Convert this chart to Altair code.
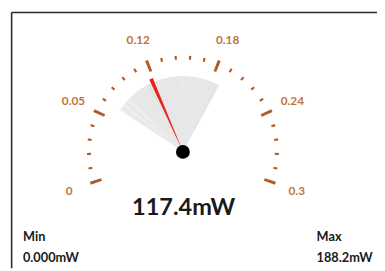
import altair as alt
import pandas as pd

# ---- data ----
major_values = [0, 0.06, 0.12, 0.18, 0.24, 0.3]
major_labels = ["0", "0.05", "0.12", "0.18", "0.24", "0.3"]
minor_values = [0.012, 0.024, 0.036, 0.048,
                0.072, 0.084, 0.096, 0.108,
                0.132, 0.144, 0.156, 0.168,
                0.192, 0.204, 0.216, 0.228,
                0.252, 0.264, 0.276, 0.288]
history_values = [0.0736, 0.077, 0.081, 0.084, 0.088, 0.091, 0.094, 0.097,
                  0.100, 0.103, 0.106, 0.109, 0.112, 0.114, 0.117, 0.120,
                  0.123, 0.126, 0.129, 0.132, 0.135, 0.138, 0.141, 0.144,
                  0.147, 0.150, 0.153, 0.156, 0.159, 0.162, 0.165, 0.168,
                  0.171, 0.174, 0.177, 0.180, 0.183, 0.186, 0.1882]
current_value = [0.1174]
value_text = ["117.4mW"]
min_title = ["Min"]
min_text = ["0.000mW"]
max_title = ["Max"]
max_text = ["188.2mW"]

W, H = 377, 263
CX, CY = 178.7, 143.7
TICK = "#ad5c28"
LABEL = "#bf7440"
FONT = "Lato"

theta_scale = alt.Scale(domain=[0, 0.3], range=[-1.902, 1.902])

major_df = pd.DataFrame({"v": major_values, "label": major_labels})
minor_df = pd.DataFrame({"v": minor_values})
hist_df = pd.DataFrame({"v": history_values})
needle_df = pd.DataFrame({"v": current_value})
one = pd.DataFrame({"k": [0]})


def wedge(df, half, color, r_out, r_in, opacity=1.0):
    return (
        alt.Chart(df)
        .transform_calculate(a=f"datum.v - {half}", b=f"datum.v + {half}")
        .mark_arc(color=color, opacity=opacity)
        .encode(
            theta=alt.Theta("a:Q", scale=theta_scale, stack=None),
            theta2="b:Q",
            radius=alt.value(r_out),
            radius2=alt.value(r_in),
            x=alt.value(CX),
            y=alt.value(CY),
        )
    )


fan = wedge(hist_df, 0.0019, "#c4c4c4", 77, 0, 0.34)
majors = wedge(major_df, 0.00125, TICK, 100, 88)
minors = wedge(minor_df, 0.0009, TICK, 98, 94)
needle = wedge(needle_df, 0.0019, "#e8231d", 81, 0)

labels = (
    alt.Chart(major_df)
    .mark_text(font=FONT, fontSize=12, fontWeight="bold", color=LABEL,
               align="center", baseline="middle")
    .encode(
        theta=alt.Theta("v:Q", scale=theta_scale, stack=None),
        radius=alt.value(123),
        x=alt.value(CX),
        y=alt.value(CY),
        text="label:N",
    )
)

hub = (
    alt.Chart(one)
    .mark_circle(color="#000000", opacity=1, size=200)
    .encode(x=alt.value(CX), y=alt.value(CY + 0.5))
)


def text_layer(vals, x, y, size, align):
    return (
        alt.Chart(pd.DataFrame({"t": vals}))
        .mark_text(font=FONT, fontSize=size, fontWeight="bold", color="#1a1a1a",
                   align=align, baseline="alphabetic")
        .encode(text="t:N", x=alt.value(x), y=alt.value(y))
    )


big = text_layer(value_text, 179.5, 208.7, 24, "center")
mn1 = text_layer(min_title, 15.3, 235, 13, "left")
mn2 = text_layer(min_text, 15.3, 257, 13, "left")
mx1 = text_layer(max_title, 315.3, 235, 13, "left")
mx2 = text_layer(max_text, 315.3, 257, 13, "left")

frame_v = (
    alt.Chart(one).mark_rule(color="#2a2a2a", strokeWidth=1.6)
    .encode(x=alt.value(3.7), y=alt.value(1.8), y2=alt.value(H))
)
frame_h = (
    alt.Chart(one).mark_rule(color="#2a2a2a", strokeWidth=1.6)
    .encode(x=alt.value(3.7), x2=alt.value(W), y=alt.value(1.8))
)

chart = (
    alt.layer(frame_v, frame_h, fan, majors, minors, labels, needle, hub,
              big, mn1, mn2, mx1, mx2)
    .properties(width=W, height=H, autosize=alt.AutoSizeParams(type="none"),
                padding=0, background="white")
    .configure_view(stroke=None)
)

chart.save("out.html", embed_options={"renderer": "svg", "actions": False})
